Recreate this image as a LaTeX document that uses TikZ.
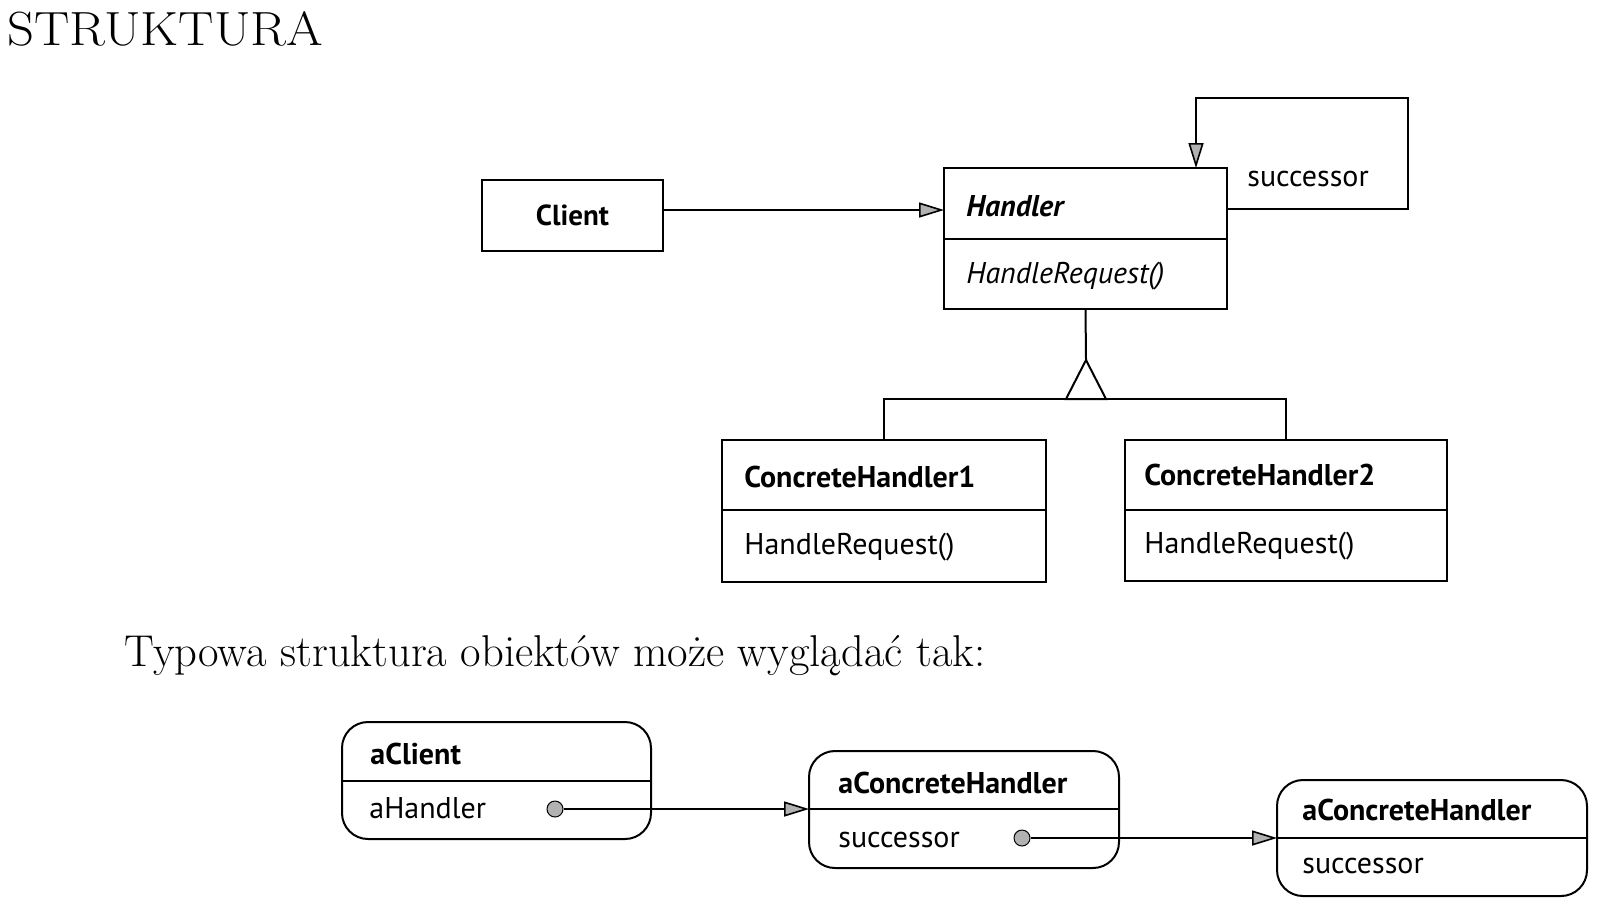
\documentclass[tikz,border=0pt]{standalone}
\usepackage{fontspec}
\setsansfont{PT Sans}
\usetikzlibrary{arrows.meta}
\begin{document}
\begin{tikzpicture}[x=0.5pt,y=-0.5pt,
  cls/.style={draw, line width=1pt, inner sep=0pt, outer sep=0pt},
  obj/.style={draw, line width=1pt, rounded corners=13pt, inner sep=0pt, outer sep=0pt},
  lbl/.style={font=\sffamily\fontsize{15}{18}\selectfont, anchor=base west, inner sep=0pt},
  blbl/.style={lbl, font=\sffamily\bfseries\fontsize{15}{18}\selectfont},
  ilbl/.style={lbl, font=\sffamily\itshape\fontsize{15}{18}\selectfont},
  bilbl/.style={lbl, font=\sffamily\bfseries\itshape\fontsize{15}{18}\selectfont},
  ln/.style={line width=1pt},
  arr/.style={line width=0.8pt, -{Triangle[length=12.5pt,width=7.5pt,fill=gray!60]}},
  dot/.style={circle, draw, fill=gray!60, minimum size=8pt, inner sep=0pt, line width=0.5pt},
  ]
\useasboundingbox (0,0) rectangle (1600,912);

\node[anchor=base west, inner sep=0pt, font=\fontsize{24}{28}\selectfont] (title) at (7,45) {\scalebox{1.1}[1]{STRUKTURA}};

% class diagram
\node[cls, minimum width=90.5pt, minimum height=35.5pt, font=\sffamily\bfseries\fontsize{14.5}{17}\selectfont] (client) at (572.5,215.5) {Client};

\node[cls, minimum width=141.5pt, minimum height=70.5pt] (handler) at (1085.5,238.5) {};
\draw[ln] (handler.west |- 0,239) -- (handler.east |- 0,239);
\node[bilbl] (handlerT) at (966,216) {Handler};
\node[ilbl] (hreq) at (966,283) {HandleRequest()};

\coordinate (loopA) at (1408,209);
\coordinate (loopB) at (1196,98);
\draw[arr] (handler.east |- 0,209) -- (loopA) |- (loopB) -- (handler.north -| loopB);
\node[lbl] (succ) at (1247,186) {successor};

\draw[arr] (client.east |- 0,210) -- (handler.west |- 0,210);

\node[cls, minimum width=162pt, minimum height=71pt] (ch1) at (884,511) {};
\draw[ln] (ch1.west |- 0,510) -- (ch1.east |- 0,510);
\node[blbl] (ch1T) at (744,487) {ConcreteHandler1};
\node[lbl] (ch1R) at (744,554) {HandleRequest()};

\node[cls, minimum width=161pt, minimum height=70.5pt] (ch2) at (1286,510.5) {};
\draw[ln] (ch2.west |- 0,509.5) -- (ch2.east |- 0,509.5);
\node[blbl] (ch2T) at (1144,485) {ConcreteHandler2};
\node[lbl] (ch2R) at (1144,553) {HandleRequest()};

\coordinate (apex) at (1086,360);
\coordinate (bl) at (1066,399);
\coordinate (br) at (1106,399);
\draw[ln] (handler.south) -- (apex);
\draw[ln] (ch1.north) |- (ch2.north |- bl) -- (ch2.north);
\draw[ln, fill=white] (apex) -- (bl) -- (br) -- cycle;

\node[anchor=base west, inner sep=0pt, font=\fontsize{22.3}{26}\selectfont] (typ) at (124,666) {Typowa struktura obiektów może wyglądać tak:};

% object diagram
\node[obj, minimum width=154.5pt, minimum height=58.5pt] (ac) at (496.5,780.5) {};
\draw[ln] (ac.west |- 0,781) -- (ac.east |- 0,781);
\node[blbl] (acT) at (370,764) {aClient};
\node[lbl] (acH) at (369,818) {aHandler};
\node[dot] (d1) at (555,809) {};

\node[obj, minimum width=155pt, minimum height=58.5pt] (mid) at (964,809.5) {};
\draw[ln] (mid.west |- 0,809) -- (mid.east |- 0,809);
\node[blbl] (midT) at (838,793) {aConcreteHandler};
\node[lbl] (midS) at (838,847) {successor};
\node[dot] (d2) at (1022,838) {};

\node[obj, minimum width=155pt, minimum height=58pt] (rt) at (1432,838) {};
\draw[ln] (rt.west |- 0,838) -- (rt.east |- 0,838);
\node[blbl] (rtT) at (1302,820) {aConcreteHandler};
\node[lbl] (rtS) at (1302,873) {successor};

\draw[arr] (d1) -- (mid.west |- d1);
\draw[arr] (d2) -- (rt.west |- d2);
\end{tikzpicture}
\end{document}
